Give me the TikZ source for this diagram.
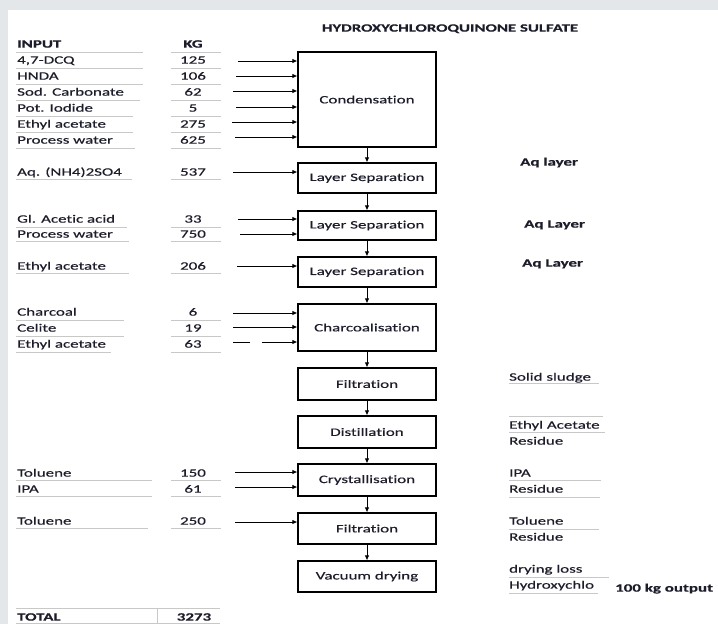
\documentclass[tikz,border=0pt]{standalone}
\usepackage{fontspec}
\setmainfont[FakeStretch=1.5,FakeBold=0.35,Ligatures=CommonOff]{Carlito}
\usetikzlibrary{arrows.meta}
\definecolor{pagegray}{HTML}{E4E7E9}
\definecolor{cellline}{HTML}{C8C8C8}
\definecolor{inktext}{HTML}{1C1C2A}
\newcommand{\cellfont}{\fontsize{11.3}{12}\selectfont}
\tikzset{
  lbl/.style={anchor=west, inner sep=0pt, text height=7.3pt, text depth=0pt,
    font=\cellfont, text=inktext},
  kg/.style={lbl, anchor=center},
  hdr/.style={font=\cellfont\bfseries},
  stepbox/.style={draw, line width=1.1pt, minimum width=138pt, inner sep=0pt,
    font=\cellfont, text=inktext},
  flow/.style={-{Latex[length=5pt,width=4.5pt]}, line width=0.9pt},
  cellrule/.style={cellline, line width=0.9pt},
}
\begin{document}
\begin{tikzpicture}[x=1pt,y=-1pt]
  \useasboundingbox (0,0) rectangle (718,624);
  \fill[pagegray] (0,0) rectangle (718,624);
  \fill[white] (8,10) rectangle (718,624);

  % title
  \node[lbl, anchor=center, font=\fontsize{11.2}{12}\selectfont\bfseries] (title) at (450,28) {HYDROXYCHLOROQUINONE SULFATE};

  % input table
  \node[lbl, hdr] (in0) at (17,44) {INPUT};
  \node[kg, hdr] (kg0) at (193,44) {KG};
  \node[lbl] (in1) at (17,60) {4,7-DCQ};
  \node[kg] (kg1) at (193,60) {125};
  \node[lbl] (in2) at (17,76) {HNDA};
  \node[kg] (kg2) at (193,76) {106};
  \node[lbl] (in3) at (17,92) {Sod. Carbonate};
  \node[kg] (kg3) at (193,92) {62};
  \node[lbl] (in4) at (17,108) {Pot. Iodide};
  \node[kg] (kg4) at (193,108) {5};
  \node[lbl] (in5) at (17,124) {Ethyl acetate};
  \node[kg] (kg5) at (193,124) {275};
  \node[lbl] (in6) at (17,140) {Process water};
  \node[kg] (kg6) at (193,140) {625};
  \node[lbl] (in7) at (17,172) {Aq. (NH4)2SO4};
  \node[kg] (kg7) at (193,172) {537};
  \node[lbl] (in8) at (17,219) {Gl. Acetic acid};
  \node[kg] (kg8) at (193,219) {33};
  \node[lbl] (in9) at (17,234) {Process water};
  \node[kg] (kg9) at (193,234) {750};
  \node[lbl] (in10) at (17,266) {Ethyl acetate};
  \node[kg] (kg10) at (193,266) {206};
  \node[lbl] (in11) at (17,312) {Charcoal};
  \node[kg] (kg11) at (193,312) {6};
  \node[lbl] (in12) at (17,328) {Celite};
  \node[kg] (kg12) at (193,328) {19};
  \node[lbl] (in13) at (17,344) {Ethyl acetate};
  \node[kg] (kg13) at (193,344) {63};
  \node[lbl] (in14) at (17,473) {Toluene};
  \node[kg] (kg14) at (193,473) {150};
  \node[lbl] (in15) at (17,489) {IPA};
  \node[kg] (kg15) at (193,489) {61};
  \node[lbl] (in16) at (17,521) {Toluene};
  \node[kg] (kg16) at (193,521) {250};
  \node[lbl, hdr] (total) at (17,617) {TOTAL};
  \node[kg, hdr] (kgtotal) at (194,617) {3273};

  % cell rules
  \foreach \y/\e in {52/143,68/143,84/143,100/140,116/133,132/133,148/135,179/132,
      227/127,241/129,273/129,320/124,336/124,352/111,480/152,496/152,528/148}
    \draw[cellrule] (16,\y) -- (\e,\y);
  \foreach \y in {52,68,84,100,116,132,148,179,227,241,273,320,336,352,480,496,528}
    \draw[cellrule] (171,\y) -- (221,\y);
  \draw[cellrule] (16,608) -- (220,608);
  \draw[cellrule] (16,623) -- (220,623);
  \draw[cellrule] (157,608) -- (157,624);

  % process steps
  \node[stepbox, minimum height=95pt] (cond) at (367,99.5) {Condensation};
  \node[stepbox, minimum height=30pt] (sep1) at (367,178) {Layer Separation};
  \node[stepbox, minimum height=29pt] (sep2) at (367,225.5) {Layer Separation};
  \node[stepbox, minimum height=30pt] (sep3) at (367,272) {Layer Separation};
  \node[stepbox, minimum height=47pt] (charc) at (367,327.5) {Charcoalisation};
  \node[stepbox, minimum height=32pt] (filt1) at (367,384) {Filtration};
  \node[stepbox, minimum height=32pt] (dist) at (367,432) {Distillation};
  \node[stepbox, minimum height=32pt] (cryst) at (367,480) {Crystallisation};
  \node[stepbox, minimum height=31pt] (filt2) at (367,528.5) {Filtration};
  \node[stepbox, minimum height=31pt] (vac) at (367,576.5) {Vacuum drying};
  \draw[flow] (cond) -- (sep1);
  \draw[flow] (sep1) -- (sep2);
  \draw[flow] (sep2) -- (sep3);
  \draw[flow] (sep3) -- (charc);
  \draw[flow] (charc) -- (filt1);
  \draw[flow] (filt1) -- (dist);
  \draw[flow] (dist) -- (cryst);
  \draw[flow] (cryst) -- (filt2);
  \draw[flow] (filt2) -- (vac);

  % feeds
  \coordinate (f1) at (238,61);
  \coordinate (f2) at (236,76);
  \coordinate (f3) at (233,91);
  \coordinate (f4) at (236,107);
  \coordinate (f5) at (232,122);
  \coordinate (f6) at (235,137);
  \coordinate (f7) at (233,172);
  \coordinate (f8) at (238,219);
  \coordinate (f9) at (240,234);
  \coordinate (f10) at (237,266);
  \coordinate (f11) at (233,313);
  \coordinate (f12) at (233,327);
  \coordinate (f13) at (233,342);
  \coordinate (f14) at (235,472);
  \coordinate (f15) at (235,487);
  \coordinate (f16) at (235,522);
  \foreach \f in {f1,f2,f3,f4,f5,f6}
    \draw[flow] (\f) -- (\f -| cond.west);
  \draw[flow] (f7) -- (f7 -| sep1.west);
  \draw[flow] (f8) -- (f8 -| sep2.west);
  \draw[flow] (f9) -- (f9 -| sep2.west);
  \draw[flow] (f10) -- (f10 -| sep3.west);
  \draw[flow] (f11) -- (f11 -| charc.west);
  \draw[flow] (f12) -- (f12 -| charc.west);
  \draw[flow, dash pattern=on 17pt off 12pt on 60pt] (f13) -- (f13 -| charc.west);
  \draw[flow] (f14) -- (f14 -| cryst.west);
  \draw[flow] (f15) -- (f15 -| cryst.west);
  \draw[flow] (f16) -- (f16 -| filt2.west);

  % outputs
  \node[lbl, hdr] (aq1) at (520,162) {Aq layer};
  \node[lbl, hdr] (aq2) at (524,224) {Aq Layer};
  \node[lbl, hdr] (aq3) at (522,263) {Aq Layer};
  \node[lbl] (out1) at (509,377) {Solid sludge};
  \node[lbl] (out2) at (509,425) {Ethyl Acetate};
  \node[lbl] (out3) at (509,441) {Residue};
  \node[lbl] (out4) at (509,473) {IPA};
  \node[lbl] (out5) at (509,489) {Residue};
  \node[lbl] (out6) at (509,521) {Toluene};
  \node[lbl] (out7) at (509,537) {Residue};
  \node[lbl] (out8) at (509,569) {drying loss};
  \node[lbl] (out9) at (509,585) {Hydroxychlo};
  \node[lbl, hdr] (yield) at (615,588) {100 kg output};
  \foreach \y/\e in {383/599,416/603,432/605,480/601,497/600,529/599,577/609,593/598}
    \draw[cellrule] (509,\y) -- (\e,\y);
\end{tikzpicture}
\end{document}
